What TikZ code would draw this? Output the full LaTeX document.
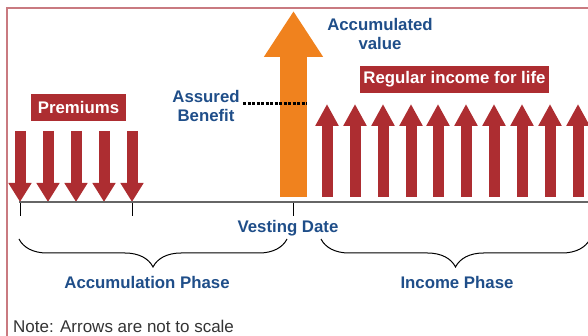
\documentclass[tikz,border=0pt]{standalone}
\usepackage{fontspec}
\setmainfont{Liberation Sans}
\usetikzlibrary{arrows.meta,decorations.pathreplacing}
\definecolor{phaseblue}{HTML}{1F4E89}
\definecolor{cashred}{HTML}{AD2D31}
\definecolor{vestorange}{HTML}{F0821E}
\definecolor{framered}{HTML}{C97A80}
\definecolor{axisgray}{HTML}{666666}
\begin{document}
\begin{tikzpicture}[x=1pt,y=-1pt,
    bluetext/.style={text=phaseblue,font=\fontsize{16.8}{18.5}\selectfont\bfseries,align=center,inner sep=0pt},
    redtag/.style={fill=cashred,text=white,font=\fontsize{16.8}{18.5}\selectfont\bfseries,inner sep=0pt},
    premium/.style={cashred,line width=11pt,-{Triangle[length=19pt,width=22pt]}},
    income/.style={cashred,line width=11pt,-{Triangle[length=22pt,width=22pt]}},
    phasebrace/.style={decorate,decoration={brace,mirror,amplitude=28pt},line width=1pt}]
        \useasboundingbox (0,0) rectangle (588,336);

        \coordinate (frameBL) at (7,340);
        \coordinate (frameTL) at (7,8);
        \coordinate (frameTR) at (592,8);
        \draw[framered,line width=1.5pt] (frameBL) -- (frameTL) -- (frameTR);

        \node[redtag,minimum width=95pt,minimum height=27pt] (Premiums) at (78.5,107.5) {Premiums};
        \node[redtag,minimum width=189pt,minimum height=27pt] (Income) at (454.5,79.5) {Regular income for life};
        \node[bluetext] (Assured) at (206,106) {Assured\\Benefit};
        \node[bluetext] (Accumulated) at (380,34) {Accumulated\\value};

        \draw[premium] (20,131) -- (20,202);
        \draw[premium] (48,131) -- (48,202);
        \draw[premium] (76,131) -- (76,202);
        \draw[premium] (104,131) -- (104,202);
        \draw[premium] (132,131) -- (132,202);

        \draw[vestorange,line width=27pt,-{Triangle[length=46pt,width=56pt]}] (293.5,197) -- (293.5,11);

        \draw[income] (327,197) -- (327,104);
        \draw[income] (355,197) -- (355,104);
        \draw[income] (383,197) -- (383,104);
        \draw[income] (411,197) -- (411,104);
        \draw[income] (438,197) -- (438,104);
        \draw[income] (466,197) -- (466,104);
        \draw[income] (494,197) -- (494,104);
        \draw[income] (522,197) -- (522,104);
        \draw[income] (550,197) -- (550,104);
        \draw[income] (578,197) -- (578,104);

        \coordinate (dotstart) at (243,104);
        \coordinate (dotend) at (307,104);
        \draw[black,line width=3pt,dash pattern=on 3pt off 1.5pt] (dotstart) -- (dotend);

        \coordinate (axisstart) at (19,202);
        \coordinate (axisend) at (592,202);
        \draw[axisgray,line width=1.8pt] (axisstart) -- (axisend);

        \coordinate (firstpay) at (20,203);
        \coordinate (lastpay) at (132,203);
        \coordinate (vesting) at (293,203);
        \draw[-] (firstpay) -- ++(0,13);
        \draw[-] (lastpay) -- ++(0,13);
        \draw[-] (vesting) -- ++(0,13);

        \node[bluetext] (Vesting) at (288,228) {Vesting Date};

        \coordinate (accL) at (19,239);
        \coordinate (accR) at (287,239);
        \coordinate (incL) at (321,239);
        \coordinate (incR) at (590,239);
        \draw[phasebrace] (accL) -- (accR);
        \draw[phasebrace] (incL) -- (incR);

        \node[bluetext] (AccPhase) at (147,282) {Accumulation Phase};
        \node[bluetext] (IncPhase) at (457,282) {Income Phase};

        \node[anchor=base west,inner sep=0pt,text=black!80,font=\fontsize{17}{20}\selectfont] (Note) at (13,332) {Note: Arrows are not to scale};
    \end{tikzpicture}
\end{document}
